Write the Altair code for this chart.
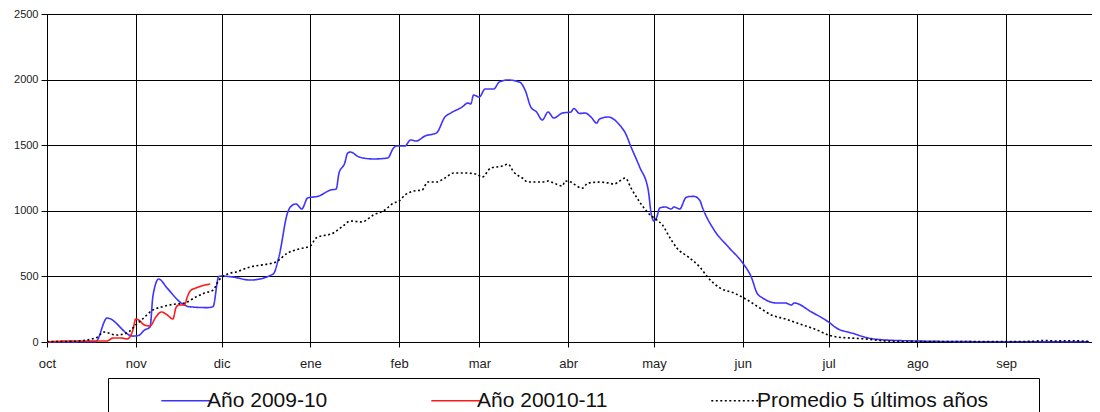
import altair as alt
import pandas as pd

# ---- data ----
blue_dates = ["2009-10-01","2009-10-18","2009-10-22","2009-10-31","2009-11-02","2009-11-04","2009-11-06",
              "2009-11-07","2009-11-09","2009-11-12","2009-11-17","2009-11-20","2009-11-26","2009-11-28",
              "2009-11-30","2009-12-01","2009-12-05","2009-12-11","2009-12-19","2009-12-21","2009-12-24",
              "2009-12-25","2009-12-27","2009-12-29","2009-12-31","2010-01-04","2010-01-08","2010-01-10",
              "2010-01-11","2010-01-13","2010-01-14","2010-01-15","2010-01-18","2010-01-23","2010-01-28",
              "2010-01-30","2010-01-31","2010-02-03","2010-02-05","2010-02-07","2010-02-10","2010-02-14",
              "2010-02-17","2010-02-19","2010-02-23","2010-02-25","2010-02-26","2010-02-27","2010-03-01",
              "2010-03-03","2010-03-06","2010-03-08","2010-03-11","2010-03-15","2010-03-17","2010-03-19",
              "2010-03-21","2010-03-23","2010-03-25","2010-03-27","2010-03-30","2010-04-02","2010-04-03",
              "2010-04-05","2010-04-07","2010-04-09","2010-04-11","2010-04-12","2010-04-15","2010-04-19",
              "2010-04-21","2010-04-23","2010-04-26","2010-04-29","2010-04-30","2010-05-01","2010-05-02",
              "2010-05-03","2010-05-05","2010-05-07","2010-05-08","2010-05-10","2010-05-12","2010-05-13",
              "2010-05-15","2010-05-17","2010-05-18","2010-05-22","2010-05-27","2010-06-01","2010-06-04",
              "2010-06-06","2010-06-08","2010-06-13","2010-06-16","2010-06-18","2010-06-19","2010-06-25",
              "2010-07-01","2010-07-04","2010-07-09","2010-07-15","2010-07-21","2010-07-31","2010-08-15",
              "2010-09-01","2010-09-30"]
blue_values = [0,3,183,45,50,90,115,
               350,480,410,295,268,262,270,
               500,503,495,472,518,648,983,
               1029,1052,1014,1097,1113,1158,1166,
               1288,1364,1440,1448,1410,1395,1402,
               1478,1494,1494,1540,1532,1570,1593,
               1715,1745,1791,1821,1814,1882,1867,
               1928,1928,1982,1997,1982,1920,1791,
               1753,1692,1753,1707,1745,1753,1780,
               1742,1745,1715,1669,1700,1715,1654,
               1593,1486,1334,1158,983,922,953,
               1021,1029,1014,1029,1014,1097,1108,
               1110,1080,1021,854,724,602,495,
               373,335,297,297,282,297,229,
               152,103,69,30,15,8,3,
               2,2]

red_dates = ["2009-10-01","2009-10-09","2009-10-18","2009-10-22","2009-10-24","2009-10-27","2009-10-29",
             "2009-10-31","2009-11-01","2009-11-02","2009-11-04","2009-11-06","2009-11-08","2009-11-10",
             "2009-11-12","2009-11-14","2009-11-15","2009-11-16","2009-11-18","2009-11-19","2009-11-20",
             "2009-11-22","2009-11-24","2009-11-27"]
red_values = [0,8,8,8,30,30,23,
              91,175,168,130,122,190,229,
              206,175,259,282,282,343,389,
              412,427,442]

avg_dates = ["2009-10-01","2009-10-10","2009-10-18","2009-10-21","2009-10-25","2009-10-29","2009-11-01",
             "2009-11-03","2009-11-07","2009-11-10","2009-11-15","2009-11-18","2009-11-22","2009-11-25",
             "2009-11-28","2009-11-30","2009-12-03","2009-12-06","2009-12-11","2009-12-17","2009-12-20",
             "2009-12-24","2009-12-28","2010-01-01","2010-01-03","2010-01-09","2010-01-12","2010-01-15",
             "2010-01-19","2010-01-23","2010-01-27","2010-01-30","2010-02-01","2010-02-03","2010-02-05",
             "2010-02-06","2010-02-09","2010-02-11","2010-02-14","2010-02-17","2010-02-20","2010-02-24",
             "2010-02-28","2010-03-02","2010-03-05","2010-03-09","2010-03-11","2010-03-13","2010-03-16",
             "2010-03-18","2010-03-23","2010-03-25","2010-03-27","2010-03-30","2010-03-31","2010-04-02",
             "2010-04-03","2010-04-06","2010-04-08","2010-04-12","2010-04-15","2010-04-17","2010-04-19",
             "2010-04-21","2010-04-23","2010-04-26","2010-04-29","2010-05-02","2010-05-04","2010-05-06",
             "2010-05-09","2010-05-13","2010-05-17","2010-05-20","2010-05-24","2010-05-29","2010-06-02",
             "2010-06-07","2010-06-11","2010-06-16","2010-06-21","2010-06-27","2010-07-01","2010-07-04",
             "2010-07-09","2010-07-14","2010-07-21","2010-08-01","2010-08-15","2010-09-01","2010-09-10",
             "2010-09-15","2010-09-18","2010-09-23","2010-09-30"]
avg_values = [3,5,30,76,53,69,130,
              168,244,267,290,297,343,373,
              396,470,518,534,572,594,610,
              678,709,732,793,831,877,922,
              915,968,1006,1059,1075,1120,1143,
              1151,1158,1219,1219,1250,1288,1288,
              1280,1257,1326,1341,1356,1296,1250,
              1219,1219,1227,1212,1189,1227,1219,
              1204,1173,1212,1219,1212,1204,1227,
              1250,1173,1067,983,930,892,816,
              716,648,572,488,412,373,328,
              259,206,175,137,91,53,38,
              30,23,8,3,3,3,5,
              12,8,10,5]

series_names = ["Año 2009-10", "Año 20010-11", "Promedio 5 últimos años"]
series_colors = ["#3f33ff", "#ff1a1a", "#000000"]
series_dash = [[1, 0], [1, 0], [2, 2.5]]
month_labels = ["ene", "feb", "mar", "abr", "may", "jun", "jul", "ago", "sep", "oct", "nov", "dic"]
y_ticks = [0, 500, 1000, 1500, 2000, 2500]

frames = []
for name, d, v, order in [(series_names[0], blue_dates, blue_values, 1),
                          (series_names[1], red_dates, red_values, 2),
                          (series_names[2], avg_dates, avg_values, 0)]:
    frames.append(pd.DataFrame({"fecha": d, "valor": v, "serie": name, "orden": order}))
df = pd.concat(frames, ignore_index=True)

month_ticks = [alt.DateTime(year=2009 if m >= 10 else 2010, month=m, date=1, utc=True)
               for m in [10, 11, 12, 1, 2, 3, 4, 5, 6, 7, 8, 9]]

label_expr = "[" + ",".join("'%s'" % m for m in month_labels) + "][utcmonth(datum.value)]"

chart = alt.Chart(df).mark_line(strokeWidth=1.6, interpolate="monotone").encode(
    x=alt.X("fecha:T",
            scale=alt.Scale(type="utc",
                            domain=[alt.DateTime(year=2009, month=10, date=1, utc=True),
                                    alt.DateTime(year=2010, month=10, date=1, utc=True)]),
            axis=alt.Axis(title=None, values=month_ticks, labelExpr=label_expr,
                          grid=True, gridColor="#000000", gridOpacity=1, gridWidth=1,
                          domainColor="#000000", tickColor="#000000", tickSize=5,
                          labelFont="Liberation Sans", labelFontSize=13, labelColor="#222222",
                          labelPadding=10, labelAlign="center")),
    y=alt.Y("valor:Q",
            scale=alt.Scale(domain=[0, 2500], nice=False),
            axis=alt.Axis(title=None, values=y_ticks, format="d", grid=True, gridColor="#000000",
                          gridOpacity=1, gridWidth=1, domainColor="#000000",
                          tickColor="#000000", tickSize=6, labelFont="Liberation Sans",
                          labelFontSize=11, labelColor="#222222", labelPadding=3)),
    color=alt.Color("serie:N",
                    scale=alt.Scale(domain=series_names, range=series_colors),
                    legend=alt.Legend(title=" ", titleOrient="right", titlePadding=39,
                                      titleFontSize=1,
                                      orient="none", legendX=61, legendY=364,
                                      direction="horizontal", symbolType="M-3.6,0L3.6,0",
                                      symbolSize=196, symbolStrokeWidth=1.6,
                                      symbolOffset=56,
                                      labelFont="Liberation Sans", labelFontSize=21,
                                      labelColor="#111111", labelOffset=10,
                                      columnPadding=62, padding=12,
                                      strokeColor="#000000", fillColor="#ffffff",
                                      labelLimit=400)),
    strokeDash=alt.StrokeDash("serie:N",
                              scale=alt.Scale(domain=series_names, range=series_dash),
                              legend=alt.Legend(title=" ")),
    order=alt.Order("orden:Q"),
).properties(
    width=1045, height=328,
    autosize=alt.AutoSizeParams(type="none"),
    padding={"left": 39, "top": 6, "right": 0, "bottom": 70},
).configure_view(stroke="#a0a0a0", strokeWidth=1)

chart.save("out.html", embed_options={"renderer": "svg", "actions": False})
